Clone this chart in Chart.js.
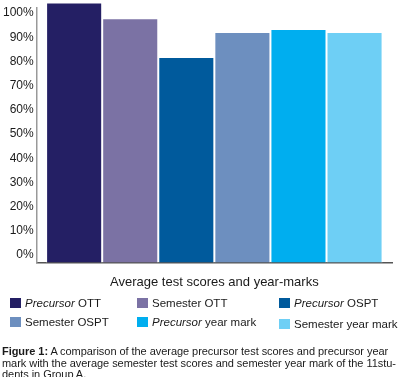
<!DOCTYPE html>
<html>
<head>
<meta charset="utf-8">
<script src="https://cdn.jsdelivr.net/npm/chart.js@4/dist/chart.umd.min.js"></script>
<style>
    html, body { margin: 0; padding: 0; background: #fff; }
    body { width: 403px; height: 377px; position: relative; overflow: hidden; font-family: "Liberation Sans", Arial, sans-serif; color: #1a1a1a; }
    #chartBox { position: absolute; left: 0; top: 0; width: 403px; height: 302px; }
    .legend-item { position: absolute; font-size: 11.5px; white-space: nowrap; line-height: 14px; }
    .legend-swatch { display: inline-block; width: 11px; height: 10px; vertical-align: -1px; margin-right: 4px; }
    #caption { position: absolute; left: 2px; top: 346px; font-size: 11px; line-height: 11.5px; letter-spacing: -0.05px; white-space: nowrap; }
</style>
</head>
<body>
<div id="chartBox"><canvas id="scoreChart"></canvas></div>
<div id="legend"></div>
<div id="caption">
    <b>Figure 1:</b> A comparison of the average precursor test scores and precursor year<br>
    mark with the average semester test scores and semester year mark of the 11stu-<br>
    dents in Group A.
</div>
<script>
const categories = ['Average test scores and year-marks'];
const seriesNames = ['Precursor OTT', 'Semester OTT', 'Precursor OSPT', 'Semester OSPT', 'Precursor year mark', 'Semester year mark'];
const seriesValues = [104.4, 97.9, 81.9, 92.2, 93.4, 92.2];
const seriesColors = ['#241f64', '#7b72a4', '#005a9c', '#6d8fbf', '#00aeef', '#6ecff5'];
const yTicks = [0, 10, 20, 30, 40, 50, 60, 70, 80, 90, 100];

//..legend slots (col x, row y)
const legendPos = [
    { x: 10, y: 296 }, { x: 137, y: 296 }, { x: 279, y: 296 },
    { x: 10, y: 315 }, { x: 137, y: 315 }, { x: 279, y: 317 }
];

const datasets = seriesNames.map((name, i) => ({
    label: name,
    data: [seriesValues[i]],
    backgroundColor: seriesColors[i],
    borderColor: '#ffffff',
    borderWidth: 1,
    base: -3,
    clip: false
}));

const scoreChart = new Chart(document.getElementById('scoreChart'), {
    type: 'bar',
    data: { labels: categories, datasets: datasets },
    options: {
        responsive: true,
        maintainAspectRatio: false,
        animation: false,
        categoryPercentage: 0.947,
        barPercentage: 1,
        layout: { padding: { left: 0, right: 11, top: 0, bottom: 0 } },
        plugins: {
            legend: { display: false },
            tooltip: { enabled: false }
        },
        scales: {
            x: {
                grid: { display: false, drawTicks: false },
                border: { display: true, color: '#555', width: 1.5 },
                ticks: { color: '#1a1a1a', padding: 12, font: { family: 'Liberation Sans', size: 13 } }
            },
            y: {
                min: -3,
                max: 102.2,
                afterBuildTicks(axis) {
                    axis.ticks = yTicks.map(v => ({ value: v }));
                },
                grid: { display: false, drawTicks: false },
                border: { display: true, color: '#999', width: 1.5 },
                ticks: {
                    color: '#1a1a1a',
                    padding: 3,
                    font: { family: 'Liberation Sans', size: 12, lineHeight: 0.8 },
                    callback: v => v + '%'
                }
            }
        }
    }
});

//..html legend so "Precursor" can be italic
const legendEl = document.getElementById('legend');
scoreChart.data.datasets.forEach((ds, i) => {
    const item = document.createElement('div');
    item.className = 'legend-item';
    item.style.left = legendPos[i].x + 'px';
    item.style.top = legendPos[i].y + 'px';
    const text = ds.label.replace('Precursor', '<i>Precursor</i>');
    item.innerHTML = `<span class="legend-swatch" style="background:${ds.backgroundColor}"></span>${text}`;
    legendEl.appendChild(item);
});
</script>
</body>
</html>
